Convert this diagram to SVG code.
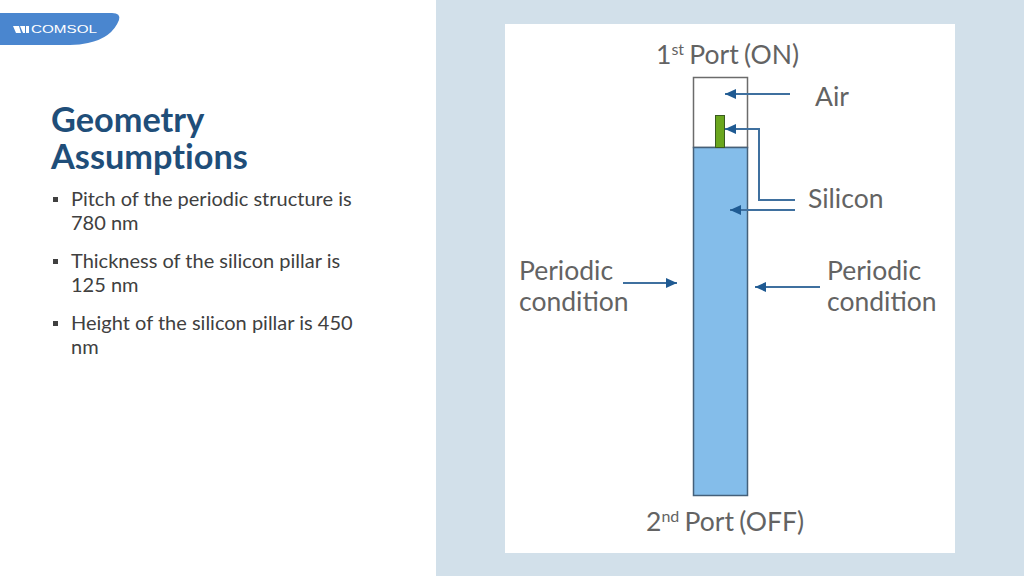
<svg xmlns="http://www.w3.org/2000/svg" width="1024" height="576" viewBox="0 0 1024 576">
<defs>
<marker id="ah" markerUnits="userSpaceOnUse" markerWidth="12" markerHeight="10" refX="11" refY="5" orient="auto"><path d="M0,0L11,5L0,10Z" fill="#1f5a92"/></marker>
</defs>
<style>
text{font-family:Lato,"Liberation Sans",sans-serif}
.b{font-size:20px;fill:#404040}
.l{font-size:26.500px;fill:#636363}
.p{word-spacing:-1.500px}
.t{font-size:34.300px;font-weight:700;fill:#1f4e79;font-variant-ligatures:none}
.c{fill:none;stroke:#3f709f;stroke-width:2;marker-end:url(#ah)}
</style>
<rect x="436" width="588" height="576" fill="#d2e0ea"/>
<rect x="505" y="24" width="450" height="529" fill="#fff"/>
<g id="logo">
<path d="M0,13H112Q121,13 119,20Q112,38 88,43Q80,45 70,45H0Z" fill="#4a86cf"/>
<path d="M13,26H19L21,33H16Z M20,26H25V33H23Z M26,26H29V33H26Z" fill="#fff"/>
<text x="31" y="33" font-size="11" fill="#fff" textLength="66" lengthAdjust="spacingAndGlyphs" style="font-family:'Liberation Sans',sans-serif">COMSOL</text>
</g>
<g id="title"><text class="t" x="51" y="132">Geometry</text><text class="t" x="51" y="169">Assumptions</text></g>
<g id="bullets">
<rect x="53" y="197" width="5" height="5" fill="#404040"/>
<text class="b" x="71" y="206">Pitch of the periodic structure is</text><text class="b" x="71" y="230">780 nm</text>
<rect x="53" y="259" width="5" height="5" fill="#404040"/>
<text class="b" x="71" y="268">Thickness of the silicon pillar is</text><text class="b" x="71" y="292">125 nm</text>
<rect x="53" y="321" width="5" height="5" fill="#404040"/>
<text class="b" x="71" y="330">Height of the silicon pillar is 450</text><text class="b" x="71" y="354">nm</text>
</g>
<g id="air"><rect x="693.500" y="77.500" width="54" height="70" fill="#fff" stroke="#6b6b6b" stroke-width="1.500"/></g>
<g id="substrate"><rect x="693.500" y="147.500" width="54" height="348" fill="#84bdea" stroke="#44607a" stroke-width="1.500"/></g>
<g id="pillar"><rect x="715.500" y="115.500" width="9" height="32" fill="#6aa61e" stroke="#3a5a20" stroke-width="1"/></g>
<g id="connectors">
<path class="c" d="M790,94H725"/>
<path class="c" d="M795,200H759V129H725"/>
<path class="c" d="M795,210H730"/>
<path class="c" d="M623,283H677"/>
<path class="c" d="M820,287H755"/>
</g>
<g id="labels">
<text class="l p" x="656" y="64">1<tspan font-size="16" dy="-9">st</tspan><tspan dy="9"> Port (ON)</tspan></text>
<text class="l" x="815" y="106">Air</text>
<text class="l" x="808" y="208">Silicon</text>
<text class="l" x="519" y="280">Periodic</text><text class="l" x="519" y="311">condition</text>
<text class="l" x="827" y="280">Periodic</text><text class="l" x="827" y="311">condition</text>
<text class="l p" x="646" y="531">2<tspan font-size="16" dy="-9">nd</tspan><tspan dy="9"> Port (OFF)</tspan></text>
</g>
</svg>
